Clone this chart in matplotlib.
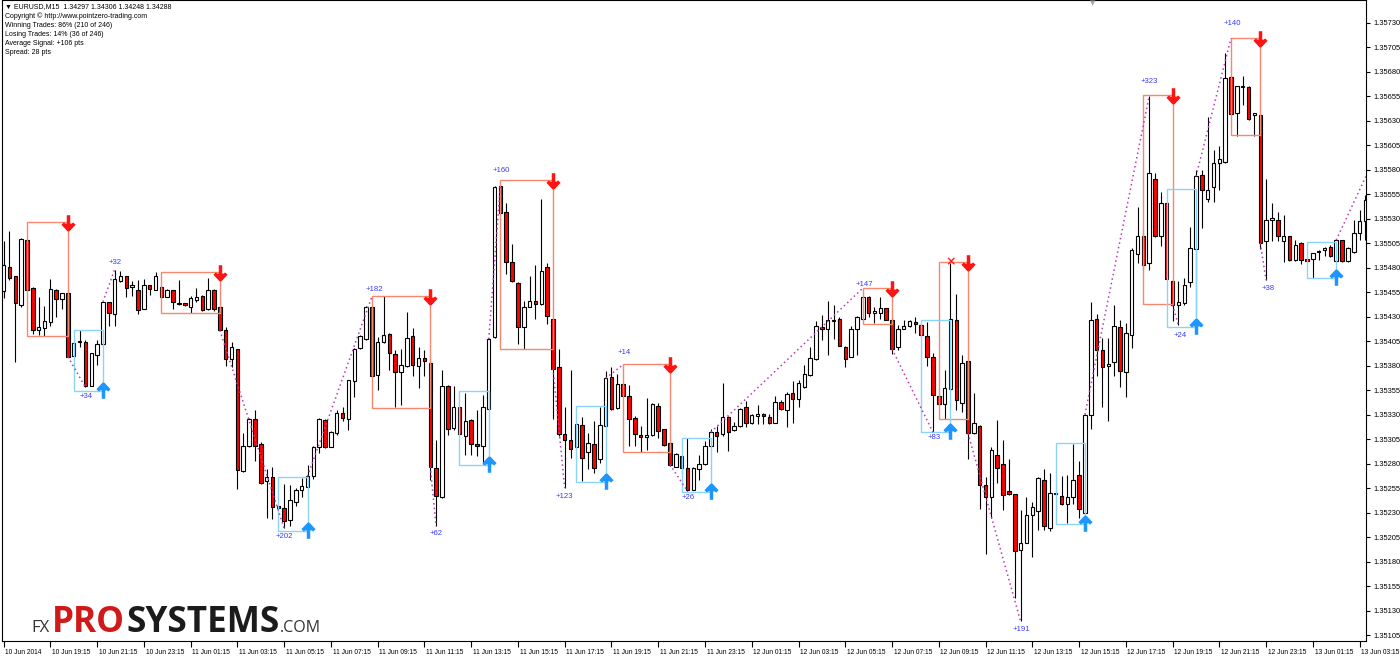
import matplotlib
matplotlib.use('Agg')
import matplotlib.pyplot as plt
from matplotlib.patches import Rectangle
from matplotlib.path import Path
import matplotlib.transforms as mtransforms
import numpy as np

# ---------------- data (EURUSD M15, one value per bar) ----------------
opens = [1.35456, 1.35481, 1.35471, 1.35442, 1.35508, 1.35459, 1.35416, 1.35418, 1.35424, 1.35457,
         1.35448, 1.35454, 1.35390, 1.35404, 1.35404, 1.35359, 1.35391, 1.35402, 1.35445, 1.35433,
         1.35466, 1.35471, 1.35460, 1.35457, 1.35438, 1.35462, 1.35457, 1.35460, 1.35450, 1.35457,
         1.35444, 1.35444, 1.35440, 1.35447, 1.35451, 1.35438, 1.35457, 1.35440, 1.35416, 1.35387,
         1.35397, 1.35272, 1.35298, 1.35326, 1.35300, 1.35262, 1.35266, 1.35237, 1.35235, 1.35222,
         1.35241, 1.35253, 1.35256, 1.35267, 1.35297, 1.35324, 1.35297, 1.35311, 1.35332, 1.35326,
         1.35364, 1.35398, 1.35407, 1.35440, 1.35370, 1.35404, 1.35412, 1.35392, 1.35373, 1.35380,
         1.35410, 1.35380, 1.35388, 1.35383, 1.35276, 1.35246, 1.35359, 1.35316, 1.35338, 1.35308,
         1.35324, 1.35300, 1.35298, 1.35336, 1.35409, 1.35563, 1.35537, 1.35486, 1.35464, 1.35419,
         1.35440, 1.35446, 1.35443, 1.35481, 1.35428, 1.35379, 1.35310, 1.35304, 1.35297, 1.35319,
         1.35292, 1.35300, 1.35285, 1.35318, 1.35368, 1.35337, 1.35361, 1.35349, 1.35327, 1.35309,
         1.35307, 1.35309, 1.35339, 1.35315, 1.35301, 1.35277, 1.35288, 1.35276, 1.35253, 1.35274,
         1.35280, 1.35298, 1.35312, 1.35310, 1.35328, 1.35314, 1.35318, 1.35338, 1.35321, 1.35329,
         1.35330, 1.35328, 1.35321, 1.35343, 1.35335, 1.35352, 1.35346, 1.35358, 1.35370, 1.35387,
         1.35419, 1.35417, 1.35425, 1.35428, 1.35399, 1.35389, 1.35417, 1.35428, 1.35450, 1.35434,
         1.35434, 1.35439, 1.35427, 1.35399, 1.35417, 1.35420, 1.35424, 1.35421, 1.35410, 1.35389,
         1.35349, 1.35341, 1.35356, 1.35427, 1.35342, 1.35385, 1.35311, 1.35318, 1.35258, 1.35246,
         1.35289, 1.35280, 1.35252, 1.35249, 1.35192, 1.35199, 1.35228, 1.35232, 1.35263, 1.35214,
         1.35249, 1.35247, 1.35239, 1.35246, 1.35268, 1.35230, 1.35330, 1.35428, 1.35396, 1.35380,
         1.35384, 1.35419, 1.35373, 1.35411, 1.35494, 1.35512, 1.35485, 1.35570, 1.35512, 1.35546,
         1.35466, 1.35442, 1.35444, 1.35465, 1.35499, 1.35574, 1.35550, 1.35562, 1.35587, 1.35588,
         1.35674, 1.35638, 1.35664, 1.35664, 1.35636, 1.35636, 1.35507, 1.35529, 1.35529, 1.35507,
         1.35512, 1.35488, 1.35505, 1.35489, 1.35489, 1.35496, 1.35498, 1.35501, 1.35487, 1.35508,
         1.35487, 1.35496, 1.35515, 1.35528]
highs = [1.35507, 1.35517, 1.35471, 1.35510, 1.35509, 1.35460, 1.35450, 1.35441, 1.35468, 1.35458,
         1.35454, 1.35454, 1.35404, 1.35416, 1.35406, 1.35393, 1.35406, 1.35445, 1.35445, 1.35478,
         1.35477, 1.35471, 1.35466, 1.35467, 1.35468, 1.35462, 1.35475, 1.35461, 1.35458, 1.35457,
         1.35467, 1.35444, 1.35451, 1.35459, 1.35452, 1.35469, 1.35458, 1.35441, 1.35419, 1.35404,
         1.35397, 1.35311, 1.35327, 1.35335, 1.35302, 1.35274, 1.35277, 1.35237, 1.35259, 1.35258,
         1.35255, 1.35265, 1.35279, 1.35298, 1.35327, 1.35325, 1.35313, 1.35335, 1.35338, 1.35365,
         1.35398, 1.35411, 1.35441, 1.35441, 1.35409, 1.35451, 1.35413, 1.35396, 1.35397, 1.35435,
         1.35418, 1.35399, 1.35396, 1.35384, 1.35304, 1.35376, 1.35360, 1.35359, 1.35338, 1.35352,
         1.35326, 1.35335, 1.35350, 1.35408, 1.35563, 1.35564, 1.35546, 1.35504, 1.35465, 1.35446,
         1.35471, 1.35483, 1.35550, 1.35485, 1.35429, 1.35397, 1.35338, 1.35376, 1.35321, 1.35328,
         1.35311, 1.35323, 1.35338, 1.35374, 1.35379, 1.35371, 1.35362, 1.35360, 1.35329, 1.35318,
         1.35347, 1.35342, 1.35342, 1.35315, 1.35302, 1.35291, 1.35289, 1.35306, 1.35277, 1.35289,
         1.35303, 1.35315, 1.35318, 1.35362, 1.35329, 1.35322, 1.35337, 1.35344, 1.35331, 1.35340,
         1.35332, 1.35331, 1.35349, 1.35345, 1.35353, 1.35364, 1.35365, 1.35381, 1.35399, 1.35425,
         1.35432, 1.35446, 1.35442, 1.35430, 1.35400, 1.35420, 1.35431, 1.35451, 1.35451, 1.35440,
         1.35450, 1.35439, 1.35429, 1.35421, 1.35427, 1.35427, 1.35430, 1.35422, 1.35424, 1.35393,
         1.35350, 1.35375, 1.35485, 1.35453, 1.35391, 1.35386, 1.35352, 1.35319, 1.35266, 1.35297,
         1.35324, 1.35304, 1.35285, 1.35249, 1.35233, 1.35246, 1.35241, 1.35266, 1.35274, 1.35270,
         1.35251, 1.35267, 1.35268, 1.35300, 1.35283, 1.35331, 1.35445, 1.35433, 1.35408, 1.35408,
         1.35442, 1.35426, 1.35423, 1.35500, 1.35542, 1.35519, 1.35655, 1.35577, 1.35557, 1.35547,
         1.35467, 1.35466, 1.35469, 1.35521, 1.35580, 1.35580, 1.35634, 1.35600, 1.35604, 1.35699,
         1.35675, 1.35665, 1.35675, 1.35665, 1.35636, 1.35637, 1.35570, 1.35546, 1.35537, 1.35534,
         1.35512, 1.35508, 1.35506, 1.35489, 1.35495, 1.35498, 1.35501, 1.35503, 1.35508, 1.35508,
         1.35501, 1.35529, 1.35539, 1.35554]
lows = [1.35449, 1.35467, 1.35384, 1.35440, 1.35457, 1.35412, 1.35411, 1.35410, 1.35420, 1.35430,
        1.35438, 1.35389, 1.35389, 1.35399, 1.35358, 1.35359, 1.35381, 1.35401, 1.35420, 1.35420,
        1.35465, 1.35450, 1.35451, 1.35433, 1.35438, 1.35452, 1.35457, 1.35450, 1.35450, 1.35438,
        1.35442, 1.35441, 1.35434, 1.35445, 1.35436, 1.35437, 1.35436, 1.35416, 1.35380, 1.35379,
        1.35254, 1.35271, 1.35297, 1.35283, 1.35259, 1.35224, 1.35223, 1.35235, 1.35214, 1.35216,
        1.35237, 1.35246, 1.35256, 1.35264, 1.35291, 1.35296, 1.35297, 1.35309, 1.35323, 1.35314,
        1.35348, 1.35397, 1.35406, 1.35369, 1.35355, 1.35403, 1.35376, 1.35338, 1.35340, 1.35379,
        1.35369, 1.35357, 1.35369, 1.35263, 1.35216, 1.35245, 1.35309, 1.35314, 1.35309, 1.35289,
        1.35289, 1.35288, 1.35280, 1.35335, 1.35408, 1.35535, 1.35473, 1.35465, 1.35402, 1.35397,
        1.35440, 1.35428, 1.35442, 1.35422, 1.35326, 1.35308, 1.35255, 1.35286, 1.35296, 1.35262,
        1.35274, 1.35270, 1.35281, 1.35317, 1.35335, 1.35336, 1.35349, 1.35298, 1.35298, 1.35292,
        1.35294, 1.35308, 1.35306, 1.35298, 1.35278, 1.35277, 1.35269, 1.35252, 1.35253, 1.35263,
        1.35279, 1.35297, 1.35292, 1.35308, 1.35293, 1.35313, 1.35317, 1.35317, 1.35320, 1.35320,
        1.35320, 1.35320, 1.35321, 1.35335, 1.35317, 1.35321, 1.35338, 1.35357, 1.35369, 1.35386,
        1.35406, 1.35391, 1.35407, 1.35400, 1.35379, 1.35389, 1.35391, 1.35427, 1.35430, 1.35423,
        1.35428, 1.35427, 1.35392, 1.35396, 1.35417, 1.35419, 1.35413, 1.35410, 1.35380, 1.35312,
        1.35341, 1.35326, 1.35355, 1.35335, 1.35333, 1.35285, 1.35310, 1.35234, 1.35188, 1.35224,
        1.35260, 1.35233, 1.35248, 1.35143, 1.35119, 1.35199, 1.35185, 1.35212, 1.35212, 1.35211,
        1.35248, 1.35238, 1.35219, 1.35239, 1.35224, 1.35229, 1.35315, 1.35369, 1.35338, 1.35323,
        1.35369, 1.35358, 1.35348, 1.35398, 1.35485, 1.35478, 1.35478, 1.35511, 1.35502, 1.35468,
        1.35425, 1.35421, 1.35442, 1.35460, 1.35430, 1.35520, 1.35547, 1.35547, 1.35559, 1.35587,
        1.35636, 1.35614, 1.35646, 1.35631, 1.35614, 1.35499, 1.35467, 1.35507, 1.35507, 1.35486,
        1.35487, 1.35487, 1.35484, 1.35487, 1.35469, 1.35488, 1.35492, 1.35491, 1.35486, 1.35486,
        1.35486, 1.35495, 1.35508, 1.35508]
closes = [1.35483, 1.35469, 1.35444, 1.35509, 1.35457, 1.35416, 1.35419, 1.35425, 1.35458, 1.35448,
          1.35454, 1.35389, 1.35403, 1.35405, 1.35359, 1.35393, 1.35402, 1.35445, 1.35434, 1.35468,
          1.35471, 1.35459, 1.35462, 1.35437, 1.35462, 1.35458, 1.35471, 1.35450, 1.35457, 1.35445,
          1.35443, 1.35442, 1.35449, 1.35450, 1.35437, 1.35457, 1.35438, 1.35416, 1.35387, 1.35399,
          1.35273, 1.35298, 1.35326, 1.35298, 1.35260, 1.35266, 1.35236, 1.35235, 1.35221, 1.35243,
          1.35253, 1.35257, 1.35267, 1.35297, 1.35326, 1.35297, 1.35312, 1.35332, 1.35327, 1.35365,
          1.35397, 1.35410, 1.35440, 1.35369, 1.35404, 1.35411, 1.35393, 1.35373, 1.35381, 1.35408,
          1.35381, 1.35388, 1.35385, 1.35277, 1.35247, 1.35359, 1.35315, 1.35338, 1.35310, 1.35323,
          1.35300, 1.35298, 1.35338, 1.35407, 1.35562, 1.35536, 1.35486, 1.35466, 1.35419, 1.35440,
          1.35446, 1.35443, 1.35476, 1.35431, 1.35377, 1.35310, 1.35304, 1.35295, 1.35320, 1.35286,
          1.35301, 1.35276, 1.35319, 1.35367, 1.35336, 1.35361, 1.35349, 1.35326, 1.35310, 1.35307,
          1.35309, 1.35341, 1.35313, 1.35299, 1.35279, 1.35290, 1.35276, 1.35253, 1.35275, 1.35280,
          1.35298, 1.35312, 1.35308, 1.35328, 1.35312, 1.35318, 1.35336, 1.35321, 1.35330, 1.35330,
          1.35329, 1.35321, 1.35343, 1.35336, 1.35351, 1.35346, 1.35362, 1.35371, 1.35388, 1.35420,
          1.35417, 1.35427, 1.35426, 1.35400, 1.35387, 1.35417, 1.35430, 1.35450, 1.35434, 1.35436,
          1.35439, 1.35427, 1.35397, 1.35417, 1.35420, 1.35425, 1.35422, 1.35411, 1.35389, 1.35350,
          1.35341, 1.35357, 1.35428, 1.35345, 1.35383, 1.35311, 1.35321, 1.35258, 1.35246, 1.35294,
          1.35275, 1.35248, 1.35249, 1.35191, 1.35199, 1.35228, 1.35236, 1.35265, 1.35216, 1.35250,
          1.35250, 1.35239, 1.35246, 1.35263, 1.35234, 1.35330, 1.35427, 1.35396, 1.35379, 1.35382,
          1.35420, 1.35374, 1.35413, 1.35498, 1.35512, 1.35483, 1.35576, 1.35512, 1.35546, 1.35468,
          1.35442, 1.35445, 1.35462, 1.35500, 1.35573, 1.35559, 1.35559, 1.35587, 1.35591, 1.35673,
          1.35637, 1.35665, 1.35664, 1.35632, 1.35636, 1.35505, 1.35529, 1.35529, 1.35512, 1.35512,
          1.35488, 1.35503, 1.35488, 1.35487, 1.35495, 1.35497, 1.35500, 1.35492, 1.35508, 1.35487,
          1.35500, 1.35515, 1.35528, 1.35549]

x_tick_labels = ['10 Jun 2014', '10 Jun 19:15', '10 Jun 21:15', '10 Jun 23:15',
                 '11 Jun 01:15', '11 Jun 03:15', '11 Jun 05:15', '11 Jun 07:15', '11 Jun 09:15',
                 '11 Jun 11:15', '11 Jun 13:15', '11 Jun 15:15', '11 Jun 17:15', '11 Jun 19:15',
                 '11 Jun 21:15', '11 Jun 23:15', '12 Jun 01:15', '12 Jun 03:15', '12 Jun 05:15',
                 '12 Jun 07:15', '12 Jun 09:15', '12 Jun 11:15', '12 Jun 13:15', '12 Jun 15:15',
                 '12 Jun 17:15', '12 Jun 19:15', '12 Jun 21:15', '12 Jun 23:15', '13 Jun 01:15',
                 '13 Jun 03:15']
y_tick_labels = ['1.35105', '1.35130', '1.35155', '1.35180', '1.35205', '1.35230', '1.35255',
                 '1.35280', '1.35305', '1.35330', '1.35355', '1.35380', '1.35405', '1.35430',
                 '1.35455', '1.35480', '1.35505', '1.35530', '1.35555', '1.35580', '1.35605',
                 '1.35630', '1.35655', '1.35680', '1.35705', '1.35730']

# sell signal boxes (bar index start/end, price top/bottom)
sell_start = [4, 27, 63, 85, 106, 147, 160, 195, 210]
sell_end = [11, 37, 73, 94, 114, 152, 165, 200, 215]
sell_top = [1.35526, 1.35475, 1.35451, 1.35569, 1.35382, 1.35459, 1.35486, 1.35656, 1.35714]
sell_bottom = [1.35410, 1.35434, 1.35337, 1.35397, 1.35292, 1.35422, 1.35326, 1.35443, 1.35615]
# buy signal boxes
buy_start = [12, 47, 78, 98, 116, 157, 180, 199, 223]
buy_end = [17, 52, 83, 103, 121, 162, 185, 204, 228]
buy_top = [1.35416, 1.35266, 1.35354, 1.35339, 1.35306, 1.35427, 1.35301, 1.35560, 1.35506]
buy_bottom = [1.35354, 1.35211, 1.35279, 1.35261, 1.35251, 1.35312, 1.35218, 1.35419, 1.35469]

# dotted zigzag legs
zz_x0 = [11, 17, 37, 52, 73, 83, 94, 103, 114, 121, 152, 165, 185, 200, 204, 215, 228]
zz_y0 = [1.35389, 1.35445, 1.35416, 1.35267, 1.35277, 1.35407, 1.35377, 1.35367, 1.35279,
         1.35312, 1.35397, 1.35311, 1.35330, 1.35442, 1.35573, 1.35505, 1.35508]
zz_x1 = [14, 19, 48, 63, 74, 85, 96, 106, 117, 147, 159, 174, 196, 201, 210, 216, 234]
zz_y1 = [1.35358, 1.35478, 1.35214, 1.35450, 1.35216, 1.35564, 1.35255, 1.35381, 1.35252,
         1.35459, 1.35312, 1.35119, 1.35655, 1.35421, 1.35714, 1.35467, 1.35585]

# pips result labels
res_text = ['+32', '+34', '+182', '+202', '+62', '+160', '+123', '+14', '+26', '+147',
            '+83', '+191', '+323', '+24', '+140', '+38']
res_x = [19.1, 14.1, 63.5, 48.0, 74.0, 85.1, 96.0, 106.1, 117.2, 147.2,
         159.2, 174.2, 196.1, 201.3, 210.3, 216.4]
res_y = [1.35485, 1.35348, 1.35458, 1.35206, 1.35209, 1.35579, 1.35246, 1.35393, 1.35245,
         1.35463, 1.35307, 1.35111, 1.35670, 1.35411, 1.35729, 1.35459]

stop_x = [162]
stop_y = [1.35486]

header_lines = ['\u25BC EURUSD,M15  1.34297 1.34306 1.34248 1.34288',
                'Copyright \u00A9 http://www.pointzero-trading.com',
                'Winning Trades: 86% (210 of 246)',
                'Losing Trades: 14% (36 of 246)',
                'Average Signal: +106 pts',
                'Spread: 28 pts']

# ---------------- figure ----------------
W, H = 1400, 657
fig = plt.figure(figsize=(W / 100, H / 100), dpi=100)
fig.patch.set_facecolor('white')
ax = fig.add_axes([2 / W, 16 / H, 1364 / W, 641 / H])
ax.set_facecolor('white')

o = np.array(opens); h = np.array(highs); l = np.array(lows); c = np.array(closes)
idx = np.arange(len(o))
bull = c >= o

ax.vlines(idx, l, h, color='black', lw=0.8, zorder=2)
bottom = np.minimum(o, c)
height = np.maximum(np.abs(c - o), 0.000012)
ax.bar(idx[bull], height[bull], bottom=bottom[bull], width=0.6, color='white',
       edgecolor='black', linewidth=0.8, zorder=3)
ax.bar(idx[~bull], height[~bull], bottom=bottom[~bull], width=0.6, color='#FF0000',
       edgecolor='black', linewidth=0.8, zorder=3)

down_arrow = Path([(0, 1), (0, -1), (-0.8, -0.15), (0, -1), (0.8, -0.15)],
                  [Path.MOVETO, Path.LINETO, Path.MOVETO, Path.LINETO, Path.LINETO])
up_arrow = Path([(0, -1), (0, 1), (-0.8, 0.15), (0, 1), (0.8, 0.15)],
                [Path.MOVETO, Path.LINETO, Path.MOVETO, Path.LINETO, Path.LINETO])

for s, e, t, b in zip(sell_start, sell_end, sell_top, sell_bottom):
    ax.add_patch(Rectangle((s, b), e - s, t - b, fill=False, edgecolor='#F7876F', lw=1.0, zorder=4))
ax.plot(sell_end, sell_top, ls='none', marker=down_arrow, ms=10.5, mew=2.5,
        color='#FF1414', zorder=6, clip_on=False)
for s, e, t, b in zip(buy_start, buy_end, buy_top, buy_bottom):
    ax.add_patch(Rectangle((s, b), e - s, t - b, fill=False, edgecolor='#8AD3FA', lw=1.0, zorder=4))
ax.plot(buy_end, buy_bottom, ls='none', marker=up_arrow, ms=10.5, mew=2.5,
        color='#1E96FF', zorder=6, clip_on=False)

for x0, y0, x1, y1 in zip(zz_x0, zz_y0, zz_x1, zz_y1):
    ax.plot([x0, x1], [y0, y1], ls=(0, (1, 2)), color='#B83CB8', lw=1.1, zorder=5)

for t, x, y in zip(res_text, res_x, res_y):
    ax.text(x, y, t, color='#3A3AFF', fontsize=5.6, ha='center', va='center', zorder=7,
            family='Liberation Sans')

for x, y in zip(stop_x, stop_y):
    ax.text(x, y, '\u00D7', color='#FF2020', fontsize=9, fontweight='bold', ha='center',
            va='center', zorder=7)

ax.set_xlim(-0.27, 233.09)
ax.set_ylim(1.35099, 1.35753)

# axes / ticks
ax.yaxis.tick_right()
ax.set_yticks([float(v) for v in y_tick_labels])
ax.set_yticklabels(y_tick_labels)
ax.set_xticks(np.arange(0, 8 * len(x_tick_labels), 8))
ax.set_xticklabels(x_tick_labels)
ax.tick_params(axis='y', direction='out', length=3, width=0.8, pad=2, labelsize=5.4)
ax.tick_params(axis='x', direction='out', length=4, width=0.8, pad=1.5, labelsize=4.8)
for lab in ax.get_xticklabels() + ax.get_yticklabels():
    lab.set_family('Liberation Sans')
offset = mtransforms.ScaledTranslation(1.2 / 72, 0, fig.dpi_scale_trans)
for lab in ax.get_xticklabels():
    lab.set_horizontalalignment('left')
    lab.set_transform(lab.get_transform() + offset)
for sp in ax.spines.values():
    sp.set_color('black')
    sp.set_linewidth(0.8)

# header info
for k, line in enumerate(header_lines):
    fig.text(5 / W, 1 - (7 + 9.2 * k) / H, line, fontsize=5.0, ha='left', va='center',
             family=['Liberation Sans', 'DejaVu Sans'], color='black')

# chart-shift marker
fig.text(1093 / W, 1 - 3 / H, '\u25BC', fontsize=5, color='#A8A8A8', ha='center', va='center',
         family='DejaVu Sans')

# logo, pieces placed one after another
renderer = fig.canvas.get_renderer()
base = 1 - 632 / H
x_px = 52
t_pro = fig.text(x_px / W, base, 'PRO', fontsize=25.3, color='#D01A1A', ha='left',
                 va='baseline', family='Open Sans', fontweight='bold')
x_px += t_pro.get_window_extent(renderer).width + 1
t_sys = fig.text(x_px / W, base, 'SYSTEMS', fontsize=25.3, color='#1B1B1B', ha='left',
                 va='baseline', family='Open Sans', fontweight='bold')
x_px += t_sys.get_window_extent(renderer).width + 1
fig.text(x_px / W, base, '.COM', fontsize=11.5, color='#333333', ha='left', va='baseline',
         family='Open Sans')
t_fx = fig.text(50 / W, base, 'FX', fontsize=12, color='#333333', ha='right', va='baseline',
                family='Open Sans')

fig.savefig('out.png', dpi=100, facecolor='white')
